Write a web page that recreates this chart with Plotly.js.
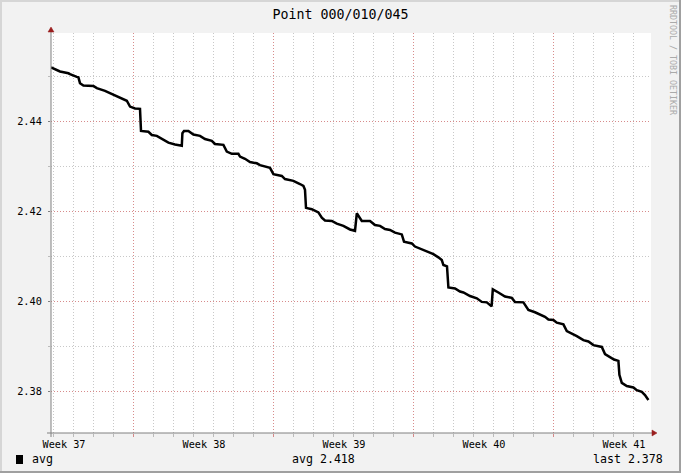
<!DOCTYPE html>
<html>
<head>
<meta charset="utf-8">
<script src="https://cdn.plot.ly/plotly-3.0.1.min.js"></script>
<style>
html,body{margin:0;padding:0;background:#f2f2f2;}
#chart{width:681px;height:473px;}
</style>
</head>
<body>
<div id="chart"></div>
<script>
// Time in days since start of the graph (Week 37 start of plot)
const days = [0,0.2,0.45,0.87,0.95,1.29,1.37,1.45,1.62,2.12,2.29,2.7,2.95,3.2,3.54,3.79,3.95,4.2,4.45,4.5,
4.87,5.04,5.29,5.54,5.87,6.2,6.54,6.57,6.65,6.87,7.12,7.45,7.7,8.04,8.2,8.62,8.79,9.04,9.37,9.45,
9.7,9.95,10.29,10.45,10.95,11.12,11.54,11.7,12.12,12.45,12.62,12.7,12.75,13.04,13.37,13.54,13.7,14.04,14.29,14.62,
14.95,15.2,15.29,15.54,15.95,16.2,16.45,16.7,16.95,17.2,17.54,17.65,18.04,18.2,18.45,18.87,19.12,19.37,19.54,19.62,
19.8,19.87,20.2,20.45,20.62,20.95,21.29,21.54,21.79,22.03,22.09,22.37,22.54,22.7,23.04,23.2,23.62,23.87,24.2,24.54,
24.7,24.87,25.12,25.29,25.62,25.79,26.04,26.29,26.62,26.87,27.12,27.54,27.7,27.95,28.15,28.37,28.42,28.54,28.79,29.12,
29.29,29.54,29.7,29.87];
const avgValues = [2.4519,2.4515,2.4510,2.4506,2.4504,2.4498,2.4497,2.4484,2.4479,2.4478,2.4473,2.4467,2.4462,2.4458,2.4450,2.4445,2.4432,2.4428,2.4427,2.4378,
2.4376,2.4369,2.4367,2.4360,2.4352,2.4348,2.4345,2.4373,2.4378,2.4378,2.4370,2.4367,2.4360,2.4356,2.4349,2.4347,2.4332,2.4327,2.4327,2.4321,
2.4316,2.4309,2.4306,2.4302,2.4296,2.4282,2.4278,2.4271,2.4267,2.4260,2.4256,2.4247,2.4207,2.4204,2.4197,2.4185,2.4179,2.4178,2.4172,2.4167,
2.4159,2.4156,2.4195,2.4178,2.4178,2.4169,2.4167,2.4160,2.4158,2.4152,2.4148,2.4132,2.4128,2.4121,2.4116,2.4108,2.4104,2.4097,2.4091,2.4080,
2.4077,2.4030,2.4028,2.4021,2.4019,2.4011,2.4006,2.3998,2.3997,2.3988,2.4026,2.4019,2.4015,2.4010,2.4007,2.3998,2.3997,2.3980,2.3975,2.3969,
2.3965,2.3959,2.3958,2.3952,2.3948,2.3933,2.3928,2.3922,2.3913,2.3910,2.3902,2.3898,2.3882,2.3876,2.3870,2.3867,2.3836,2.3818,2.3811,2.3808,
2.3802,2.3798,2.3791,2.3780];
const weekLabelPos = [0.65,7.65,14.65,21.65,28.65];
const weekLabels = ["Week 37","Week 38","Week 39","Week 40","Week 41"];
const titleText = "Point 000/010/045";
const seriesName = "avg";
const avgText = "avg 2.418";
const lastText = "last 2.378";
const sideText = "RRDTOOL / TOBI OETIKER";

const MONO = "DejaVu Sans Mono";
const RED = "rgba(205,110,110,0.8)";
const GRAY = "#c8c8c8";
const AXC = "#808080";
const ARROW = "#9a1e1e";

// pixel helpers for decoration placement (plot area 51..651 x, 33..433 y)
const px = v => (v - 51) / 600;
const py = v => (433 - v) / 400;

const traces = [
  {x: days, y: avgValues, type: 'scatter', mode: 'lines', name: seriesName,
   line: {color: '#000000', width: 2.5, shape: 'linear'}, showlegend: false, hoverinfo: 'skip'},
  {x: [], y: [], xaxis: 'x2', yaxis: 'y', type: 'scatter', mode: 'lines', showlegend: false, hoverinfo: 'skip'}
];

const layout = {
  width: 681, height: 473,
  paper_bgcolor: '#f2f2f2', plot_bgcolor: '#ffffff',
  margin: {l: 51, r: 30, t: 33, b: 40, pad: 0},
  showlegend: false,
  title: {text: titleText, x: 0.5, xanchor: 'center', y: 1 - 14/473, yanchor: 'middle',
          font: {family: MONO, size: 13.3, color: '#000'}},
  xaxis: {
    range: [0, 30], tickmode: 'linear', tick0: 4.1, dtick: 7,
    showticklabels: false, ticks: 'outside', ticklen: 3, tickcolor: RED, tickwidth: 1,
    showgrid: true, gridcolor: RED, griddash: '1px,2px', gridwidth: 1,
    minor: {tickmode: 'linear', tick0: 0.1, dtick: 1, showgrid: true, gridcolor: GRAY, griddash: '1px,2px',
            gridwidth: 1, ticks: 'outside', ticklen: 3, tickcolor: '#bbbbbb'},
    zeroline: false, showline: false, fixedrange: true
  },
  xaxis2: {
    overlaying: 'x', anchor: 'y', side: 'bottom', range: [0, 30],
    tickmode: 'array', tickvals: weekLabelPos, ticktext: weekLabels,
    ticks: '', showgrid: false, zeroline: false, showline: false,
    tickfont: {family: MONO, size: 10.2, color: '#000'}, ticklabelstandoff: 4
  },
  yaxis: {
    range: [2.37067, 2.459556], tickmode: 'linear', tick0: 2.38, dtick: 0.02, tickformat: '.2f',
    ticks: 'outside', ticklen: 2, tickcolor: AXC,
    showgrid: true, gridcolor: RED, griddash: '1px,2px', gridwidth: 1,
    minor: {tickmode: 'linear', tick0: 2.37, dtick: 0.01, showgrid: true, gridcolor: GRAY, griddash: '1px,2px',
            gridwidth: 1, ticks: 'outside', ticklen: 2, tickcolor: '#bbbbbb'},
    tickfont: {family: MONO, size: 10.3, color: '#000'}, ticklabelstandoff: 4,
    zeroline: false, showline: false, fixedrange: true
  },
  shapes: [
    // frame shading
    {type: 'line', xref: 'paper', yref: 'paper', x0: px(0), x1: px(681), y0: py(1), y1: py(1), line: {color: '#d6d6d6', width: 2}},
    {type: 'line', xref: 'paper', yref: 'paper', x0: px(1), x1: px(1), y0: py(0), y1: py(473), line: {color: '#d6d6d6', width: 2}},
    {type: 'line', xref: 'paper', yref: 'paper', x0: px(0), x1: px(681), y0: py(472), y1: py(472), line: {color: '#a0a0a0', width: 2}},
    {type: 'line', xref: 'paper', yref: 'paper', x0: px(680), x1: px(680), y0: py(0), y1: py(473), line: {color: '#a0a0a0', width: 2}},
    // axes
    {type: 'line', xref: 'paper', yref: 'paper', x0: px(47), x1: px(653), y0: 0, y1: 0, line: {color: AXC, width: 1}},
    {type: 'line', xref: 'paper', yref: 'paper', x0: 0, x1: 0, y0: py(437), y1: py(30), line: {color: AXC, width: 1}},
    // arrows
    {type: 'path', xref: 'paper', yref: 'paper',
     path: `M ${px(657)} ${py(433)} L ${px(652)} ${py(430)} L ${px(652)} ${py(436)} Z`,
     fillcolor: ARROW, line: {color: ARROW, width: 0.5}},
    {type: 'path', xref: 'paper', yref: 'paper',
     path: `M ${px(51)} ${py(27)} L ${px(48)} ${py(32)} L ${px(54)} ${py(32)} Z`,
     fillcolor: ARROW, line: {color: ARROW, width: 0.5}},
    // legend swatch
    {type: 'rect', xref: 'paper', yref: 'paper', x0: px(16), x1: px(23), y0: py(455), y1: py(464),
     fillcolor: '#000', line: {width: 0}}
  ],
  annotations: [
    {xref: 'paper', yref: 'paper', x: px(30), y: py(459), xanchor: 'left', yanchor: 'middle', showarrow: false,
     text: seriesName, font: {family: MONO, size: 11.6, color: '#000'}},
    {xref: 'paper', yref: 'paper', x: px(323.5), y: py(459), xanchor: 'center', yanchor: 'middle', showarrow: false,
     text: avgText, font: {family: MONO, size: 11.6, color: '#000'}},
    {xref: 'paper', yref: 'paper', x: px(665), y: py(459), xanchor: 'right', yanchor: 'middle', showarrow: false,
     text: lastText, font: {family: MONO, size: 11.6, color: '#000'}},
    {xref: 'paper', yref: 'paper', x: px(673), y: py(60), xanchor: 'center', yanchor: 'middle', showarrow: false,
     textangle: 90, text: sideText, font: {family: MONO, size: 8.3, color: '#aaaaaa'}}
  ]
};

Plotly.newPlot('chart', traces, layout, {staticPlot: true, displayModeBar: false});
</script>
</body>
</html>
